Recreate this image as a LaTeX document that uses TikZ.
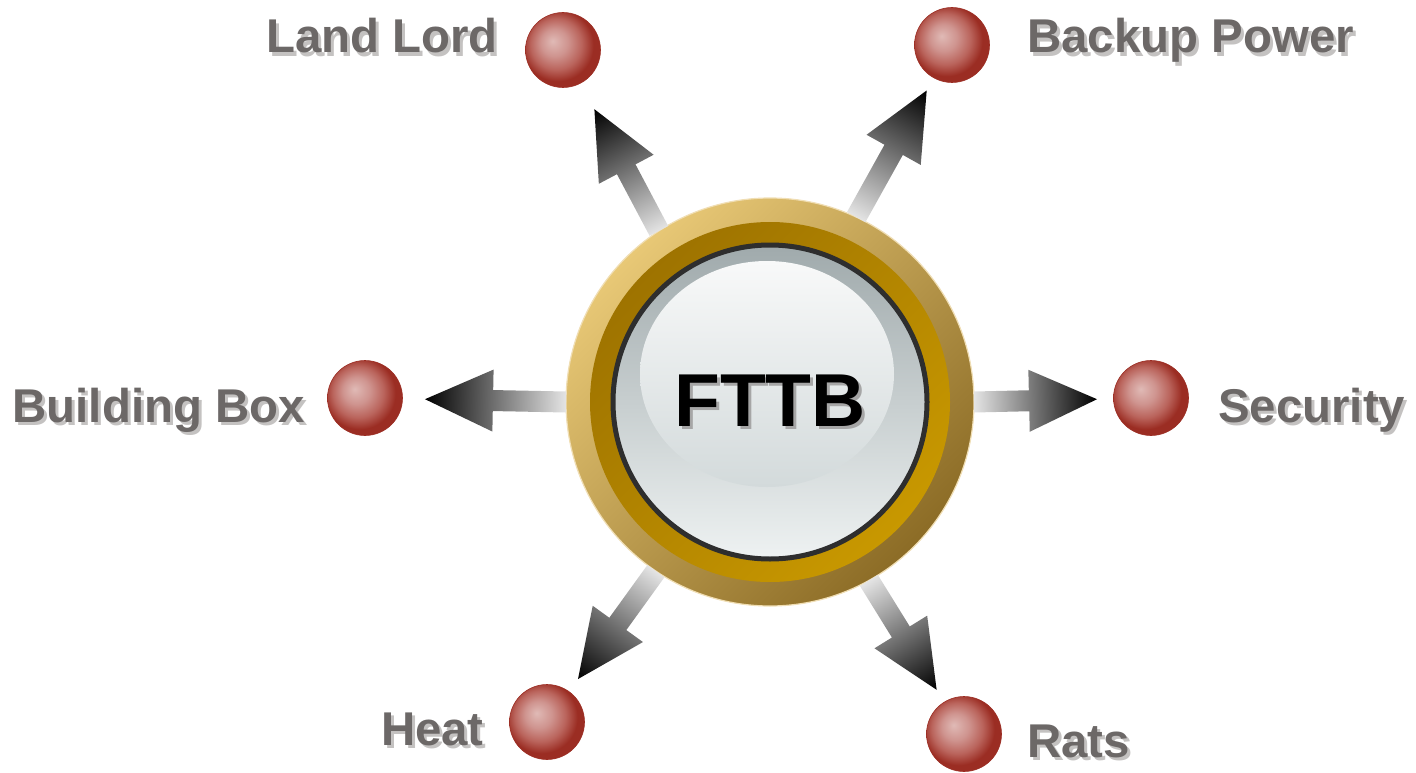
\documentclass[tikz,border=0pt]{standalone}
\usepackage{fontspec}
\setmainfont{Liberation Sans}
\usetikzlibrary{calc, positioning}

\definecolor{lblgray}{RGB}{108,104,103}
\definecolor{lblshade}{RGB}{196,194,193}
\definecolor{ballhi}{RGB}{224,186,182}
\definecolor{ballmid}{RGB}{207,148,143}
\definecolor{balllow}{RGB}{186,100,92}
\definecolor{balledge}{RGB}{155,45,35}
\definecolor{goldlight}{RGB}{232,200,118}
\definecolor{goldmid}{RGB}{196,146,18}
\definecolor{golddark}{RGB}{140,108,38}
\definecolor{bandtop}{RGB}{158,115,0}
\definecolor{bandbot}{RGB}{200,152,0}
\definecolor{goldrim}{RGB}{240,222,180}
\definecolor{disctop}{RGB}{160,170,172}
\definecolor{discmid}{RGB}{210,217,218}
\definecolor{discbot}{RGB}{238,242,242}
\definecolor{glasstop}{RGB}{248,249,249}
\definecolor{glassbot}{RGB}{211,218,219}
\definecolor{arrowtail}{RGB}{228,228,228}

\pgfdeclareradialshading{redball}{\pgfpoint{-7bp}{6bp}}{color(0bp)=(ballhi); color(9bp)=(ballmid); color(17bp)=(balllow); color(24bp)=(balledge); color(50bp)=(balledge)}

\newcommand\shtext[2][lblshade]{\rlap{\kern3pt\raisebox{-3.5pt}{\color{#1}#2}}#2}

\makeatletter
\newcommand\fatarrow[3]{%
  \path (#1) coordinate (fa-tail) ($(#2)!#3!(#1)$) coordinate (fa-tip);
  \pgfpointdiff{\pgfpointanchor{fa-tail}{center}}{\pgfpointanchor{fa-tip}{center}}%
  \pgfmathveclen{\pgf@x}{\pgf@y}\let\falen\pgfmathresult
  \pgfpointdiff{\pgfpointanchor{fa-tail}{center}}{\pgfpointanchor{fa-tip}{center}}%
  \pgfmathatantwo{\pgf@y}{\pgf@x}\let\faang\pgfmathresult
  \begin{scope}[transform canvas={shift={(fa-tail)}, rotate=\faang}]
    \shade[left color=arrowtail, right color=black]
      (0pt,-10.5pt) -- (\falen pt-68pt,-10.5pt) -- (\falen pt-68pt,-31pt) -- (\falen pt,0pt)
      -- (\falen pt-68pt,31pt) -- (\falen pt-68pt,10.5pt) -- (0pt,10.5pt) -- cycle;
  \end{scope}}
\makeatother

\begin{document}
\begin{tikzpicture}[x=1pt, y=-1pt,
    hub/.style={circle, minimum size=408pt, inner sep=0pt, outer sep=0pt,
      draw=goldrim, line width=1.2pt,
      top color=goldlight, middle color=goldmid, bottom color=golddark, shading angle=45,
      font=\bfseries\fontsize{75}{80}\selectfont,
      path picture={
        \coordinate (hc) at (path picture bounding box.center);
        \shade[top color=bandtop, bottom color=bandbot, shading angle=45] (hc) circle[radius=180pt];
        \shade[draw=black!82, line width=5pt, top color=disctop, middle color=discmid, bottom color=discbot]
          (hc) circle[radius=157pt];
        \shade[top color=glasstop, bottom color=glassbot] ($(hc)+(-3,-28)$) ellipse[x radius=127pt, y radius=113pt];
      }},
    ball/.style={circle, minimum size=75pt, inner sep=0pt, shade, shading=redball, draw=balledge, line width=0.6pt},
    lbl/.style={text=lblgray, font=\bfseries\fontsize{47.4}{50}\selectfont, inner sep=0pt}]
  \useasboundingbox (0,0) rectangle (1416,773);

  \node[hub] (hub) at (770,402) {\shtext[black!35]{FTTB}};

  \node[ball] (landlord) at (563,50) {};
  \node[ball] (backup) at (952,45) {};
  \node[ball] (bldgbox) at (365,398) {};
  \node[ball] (security) at (1151,398) {};
  \node[ball] (heat) at (547,722) {};
  \node[ball] (rats) at (964,734) {};

  \node[lbl, anchor=base east] at (498,53) {\shtext{Land Lord}};
  \node[lbl, anchor=base west] at (1027,53) {\shtext{Backup Power}};
  \node[lbl, anchor=base east] at (305,422) {\shtext{Building Box}};
  \node[lbl, anchor=base west] at (1218,422) {\shtext{Security}};
  \node[lbl, anchor=base east] at (484,745) {\shtext{Heat}};
  \node[lbl, anchor=base west] at (1027,757) {\shtext{Rats}};

  \fatarrow{hub.123}{landlord}{67pt}
  \fatarrow{hub.65}{backup}{52pt}
  \fatarrow{hub.180}{bldgbox}{60pt}
  \fatarrow{hub.0}{security}{54pt}
  \fatarrow{hub.236}{heat}{53pt}
  \fatarrow{hub.299}{rats}{52pt}
\end{tikzpicture}
\end{document}
